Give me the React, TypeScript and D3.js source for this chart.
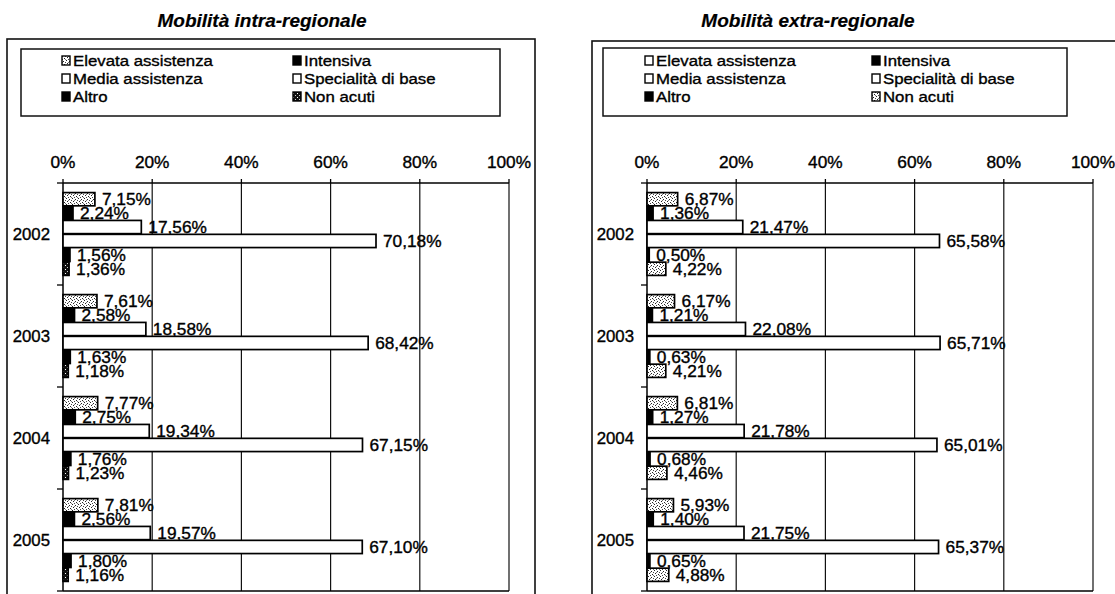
import React from 'react';
import * as d3 from 'd3';

const years = ['2002', '2003', '2004', '2005'];
const seriesNames = ['Elevata assistenza', 'Intensiva', 'Media assistenza', 'Specialità di base', 'Altro', 'Non acuti'];
const xTicks = [0, 20, 40, 60, 80, 100];

// Mobilità intra-regionale
const intraElevata = [7.15, 7.61, 7.77, 7.81];
const intraIntensiva = [2.24, 2.58, 2.75, 2.56];
const intraMedia = [17.56, 18.58, 19.34, 19.57];
const intraSpecialita = [70.18, 68.42, 67.15, 67.10];
const intraAltro = [1.56, 1.63, 1.76, 1.80];
const intraNonAcuti = [1.36, 1.18, 1.23, 1.16];

// Mobilità extra-regionale
const extraElevata = [6.87, 6.17, 6.81, 5.93];
const extraIntensiva = [1.36, 1.21, 1.27, 1.40];
const extraMedia = [21.47, 22.08, 21.78, 21.75];
const extraSpecialita = [65.58, 65.71, 65.01, 65.37];
const extraAltro = [0.50, 0.63, 0.68, 0.65];
const extraNonAcuti = [4.22, 4.21, 4.46, 4.88];

const FONT = '"Liberation Sans", Arial, Helvetica, sans-serif';
const fmt = (v: number) => v.toFixed(2).replace('.', ',') + '%';

function T({ x, y, size, sx = 1.08, anchor = 'start', weight = 'normal', italic = false, thick = 0.35, children }: any) {
  return (
    <text
      transform={`translate(${x},${y}) scale(${sx},1)`}
      fontFamily={FONT}
      fontSize={size}
      fontWeight={weight}
      fontStyle={italic ? 'italic' : 'normal'}
      textAnchor={anchor}
      fill="#000"
      stroke="#000"
      strokeWidth={thick}
    >
      {children}
    </text>
  );
}

type ChartProps = {
  title: string;
  titleX: number;
  frame: [number, number, number, number];
  legendBox: [number, number, number, number];
  legendCols: [number, number];
  axisX0: number;
  series: number[][];
  fills: string[];
  legendFills: string[];
};

function Chart(p: ChartProps) {
  const top = 183;
  const bottom = 591;
  const x = d3.scaleLinear().domain([0, 100]).range([p.axisX0, p.axisX0 + 446]);
  const yOuter = d3.scaleBand<string>().domain(years).range([top, bottom]).padding(0);
  const yInner = d3
    .scaleBand<string>()
    .domain(seriesNames)
    .range([0, yOuter.bandwidth()])
    .paddingInner(0.05)
    .paddingOuter(0.69);
  const legendRows = [61, 79, 97];
  return (
    <g>
      <rect x={p.frame[0]} y={p.frame[1]} width={p.frame[2]} height={p.frame[3]} fill="#fff" stroke="#111" strokeWidth={1.6} />
      <T x={p.titleX} y={27} size={19} sx={1.0} anchor="middle" weight="bold" italic thick={0.2}>
        {p.title}
      </T>
      <rect x={p.legendBox[0]} y={p.legendBox[1]} width={p.legendBox[2]} height={p.legendBox[3]} fill="#fff" stroke="#111" strokeWidth={1.5} />
      {seriesNames.map((name, i) => {
        const cx = p.legendCols[i % 2];
        const cy = legendRows[Math.floor(i / 2)];
        return (
          <g key={name}>
            <rect x={cx} y={cy - 5} width={8} height={9} fill={p.legendFills[i]} stroke="#000" strokeWidth={1.4} />
            <T x={cx + 11} y={cy + 5} size={15} sx={1.12}>
              {name}
            </T>
          </g>
        );
      })}
      {/* gridlines */}
      {xTicks.slice(1).map((t) => (
        <line key={'g' + t} x1={x(t)} x2={x(t)} y1={top} y2={bottom} stroke="#111" strokeWidth={1.2} />
      ))}
      {/* top axis */}
      <line x1={x(0)} x2={x(100)} y1={top} y2={top} stroke="#000" strokeWidth={1.5} />
      <line x1={x(0)} x2={x(100)} y1={bottom} y2={bottom} stroke="#000" strokeWidth={1.3} />
      {xTicks.map((t) => (
        <g key={'t' + t}>
          <line x1={x(t)} x2={x(t)} y1={top - 4} y2={top} stroke="#000" strokeWidth={1.3} />
          <T x={x(t)} y={168} size={16} anchor="middle">
            {t + '%'}
          </T>
        </g>
      ))}
      {/* left axis */}
      <line x1={x(0)} x2={x(0)} y1={top} y2={bottom} stroke="#000" strokeWidth={1.5} />
      {[...years.map((y) => yOuter(y) as number), bottom].map((yy, i) => (
        <line key={'yt' + i} x1={x(0) - 6} x2={x(0)} y1={yy} y2={yy} stroke="#000" strokeWidth={1.3} />
      ))}
      {years.map((yr) => (
        <T key={yr} x={x(0) - 13} y={(yOuter(yr) as number) + yOuter.bandwidth() / 2 + 6} size={16} sx={1.05} anchor="end">
          {yr}
        </T>
      ))}
      {/* bars */}
      {years.map((yr, yi) =>
        seriesNames.map((name, si) => {
          const v = p.series[si][yi];
          const by = (yOuter(yr) as number) + (yInner(name) as number);
          const h = yInner.bandwidth();
          return (
            <g key={yr + name}>
              <rect x={x(0)} y={by} width={x(v) - x(0)} height={h} fill={p.fills[si]} stroke="#000" strokeWidth={1.7} />
              <T x={x(v) + 7} y={by + h / 2 + 6} size={16}>
                {fmt(v)}
              </T>
            </g>
          );
        })
      )}
    </g>
  );
}

export default function App() {
  const intra = [intraElevata, intraIntensiva, intraMedia, intraSpecialita, intraAltro, intraNonAcuti];
  const extra = [extraElevata, extraIntensiva, extraMedia, extraSpecialita, extraAltro, extraNonAcuti];
  return (
    <svg width={1115} height={594} style={{ position: 'absolute', left: 0, top: 0, background: '#fff' }}>
      <defs>
        <pattern id="stL" width={6} height={6} patternUnits="userSpaceOnUse">
          <rect width={6} height={6} fill="#fff" />
          <rect x={0} y={0} width={1} height={1} fill="#222" />
          <rect x={3} y={1} width={1} height={1} fill="#222" />
          <rect x={1} y={3} width={1} height={1} fill="#222" />
          <rect x={4} y={4} width={1} height={1} fill="#222" />
          <rect x={2} y={5} width={1} height={1} fill="#444" />
          <rect x={5} y={2} width={1} height={1} fill="#444" />
          <rect x={2} y={2} width={1} height={1} fill="#777" />
          <rect x={5} y={5} width={1} height={1} fill="#777" />
        </pattern>
        <pattern id="stD" width={4} height={4} patternUnits="userSpaceOnUse">
          <rect width={4} height={4} fill="#111" />
          <rect x={1} y={1} width={1} height={1} fill="#fff" />
          <rect x={3} y={3} width={1} height={1} fill="#ccc" />
        </pattern>
      </defs>
      <Chart
        title="Mobilità intra-regionale"
        titleX={262}
        frame={[7, 39, 528, 570]}
        legendBox={[21, 49, 479, 67]}
        legendCols={[62, 293]}
        axisX0={63}
        series={intra}
        fills={['url(#stL)', '#000', '#fff', '#fff', '#000', 'url(#stD)']}
        legendFills={['url(#stL)', '#000', '#fff', '#fff', '#000', 'url(#stD)']}
      />
      <Chart
        title="Mobilità extra-regionale"
        titleX={808}
        frame={[592, 41, 540, 570]}
        legendBox={[603, 48, 464, 68]}
        legendCols={[645, 872]}
        axisX0={647}
        series={extra}
        fills={['url(#stL)', '#000', '#fff', '#fff', '#000', 'url(#stL)']}
        legendFills={['#fff', '#000', '#fff', '#fff', '#000', 'url(#stL)']}
      />
    </svg>
  );
}
